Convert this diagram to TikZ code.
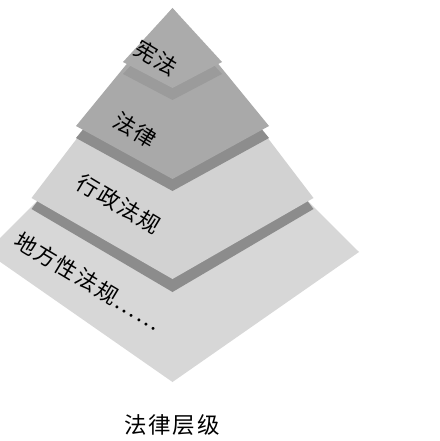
\documentclass[tikz,border=0pt]{standalone}
\usepackage{fontspec}
\newfontfamily\cjk[LetterSpace=8]{Noto Sans CJK SC}
\definecolor{faceA}{HTML}{ABABAB}
\definecolor{bandA}{HTML}{9B9B9B}
\definecolor{faceB}{HTML}{A9A9A9}
\definecolor{bandB}{HTML}{8D8D8D}
\definecolor{faceC}{HTML}{D2D2D2}
\definecolor{bandC}{HTML}{8C8C8C}
\definecolor{faceD}{HTML}{D7D7D7}
\tikzset{
  layerlabel/.style={font=\cjk\fontsize{22}{22}\selectfont, text=black, rotate=-31, inner sep=0pt},
  captionlabel/.style={font=\cjk\fontsize{22.5}{22.5}\selectfont, text=black, inner sep=0pt}
}
\begin{document}
\begin{tikzpicture}[x=1pt,y=-1pt]
\useasboundingbox (0,0) rectangle (439,441);
\clip (0,0) rectangle (439,441);
% layer 4 (bottom)
\fill[faceD] (-14,252) -- (172.5,66) -- (359,252) -- (172.5,382) -- cycle;
% layer 3
\fill[bandC] (31.5,209) -- (172.5,24) -- (313.5,209) -- (172.5,292) -- cycle;
\fill[faceC] (31.5,198) -- (172.5,13) -- (313.5,198) -- (172.5,279) -- cycle;
% layer 2
\fill[bandB] (76,138) -- (172.5,20) -- (269,138) -- (172.5,191) -- cycle;
\fill[faceB] (76,126) -- (172.5,8) -- (269,126) -- (172.5,179) -- cycle;
% layer 1 (top)
\fill[bandA] (123,74) -- (172.5,20) -- (222,74) -- (172.5,100) -- cycle;
\fill[faceA] (123,62) -- (172.5,8) -- (222,62) -- (172.5,88) -- cycle;
% labels
\node[layerlabel] (xianfa) at (156,58) {宪法};
\node[layerlabel] (falv) at (135,130) {法律};
\node[layerlabel] (xingzheng) at (119,204) {行政法规};
\node[layerlabel] (difang) at (88,281) {地方性法规……};
\node[captionlabel] (caption) at (172,425) {法律层级};
\end{tikzpicture}
\end{document}
